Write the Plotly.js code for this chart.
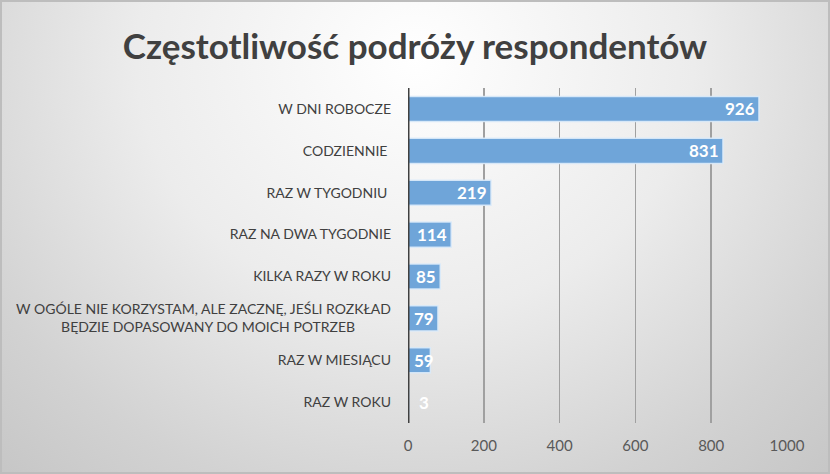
<!DOCTYPE html>
<html>
<head>
<meta charset="utf-8">
<script src="https://cdn.plot.ly/plotly-3.0.1.min.js"></script>
<style>
html,body{margin:0;padding:0;}
#wrap{width:830px;height:474px;box-sizing:border-box;border:2px solid #bdbdbd;
background:radial-gradient(ellipse 75% 120% at 50% 12%, #ffffff 0%, #ececec 45%, #d2d2d2 80%, #c6c6c6 100%);}
#chart{width:826px;height:470px;}
</style>
</head>
<body>
<div id="wrap"><div id="chart"></div></div>
<script>
const categories = [
  "W DNI ROBOCZE",
  "CODZIENNIE\u00a0",
  "RAZ W TYGODNIU\u00a0",
  "RAZ NA DWA TYGODNIE",
  "KILKA RAZY W ROKU",
  "W OGÓLE NIE KORZYSTAM, ALE ZACZNĘ, JEŚLI ROZKŁAD<br>BĘDZIE DOPASOWANY DO MOICH POTRZEB" + "\u00a0".repeat(10),
  "RAZ W MIESIĄCU",
  "RAZ W ROKU"
];
const values = [926, 831, 219, 114, 85, 79, 59, 3];
const xTicks = [0, 200, 400, 600, 800, 1000];
const title = "Częstotliwość podróży respondentów";

const fitThreshold = 75; // labels of shorter bars start at the axis instead of ending at the bar tip

const trace = {
  type: 'bar',
  orientation: 'h',
  y: categories,
  x: values,
  marker: {color: '#6fa5d9', line: {color: 'rgba(220,235,250,0.9)', width: 1.5}},
  hoverinfo: 'none'
};

const labelAnnotations = values.map((v, i) => {
  const fits = v >= fitThreshold;
  return {
    xref: 'x', yref: 'y', x: fits ? v : 0, y: categories[i],
    text: String(v), showarrow: false,
    xanchor: fits ? 'right' : 'left', xshift: fits ? -2 : (v < 10 ? 9 : 4),
    font: {family: 'Lato, sans-serif', size: 17, color: '#ffffff', weight: 'bold'}
  };
});

const layout = {
  width: 826, height: 470,
  paper_bgcolor: 'rgba(0,0,0,0)',
  plot_bgcolor: 'rgba(0,0,0,0)',
  margin: {l: 406, r: 41, t: 86, b: 49, pad: 0},
  bargap: 0.4,
  showlegend: false,
  title: {text: title, x: 0.5, xanchor: 'center', y: 0.905, yanchor: 'middle',
    font: {family: 'Lato, sans-serif', size: 35, color: '#404040', weight: 'bold'}},
  xaxis: {range: [0, 1000], tickvals: xTicks, ticktext: xTicks.map(String),
    showgrid: true, gridcolor: '#a0a0a0', gridwidth: 1.5,
    zeroline: false, showline: false, ticks: '',
    tickfont: {family: 'Lato, sans-serif', size: 15, color: '#595959'}, ticklabelstandoff: 12},
  yaxis: {autorange: 'reversed', showgrid: false, zeroline: false,
    showline: false, ticks: '', ticklabelstandoff: 16,
    tickfont: {family: 'Lato, sans-serif', size: 14, color: '#404040'}},
  annotations: labelAnnotations,
  shapes: [{type: 'line', xref: 'x', yref: 'paper', x0: 0, x1: 0, y0: 0, y1: 1,
    line: {color: '#404040', width: 3}}]
};

Plotly.newPlot('chart', [trace], layout, {displayModeBar: false, staticPlot: true});
</script>
</body>
</html>
